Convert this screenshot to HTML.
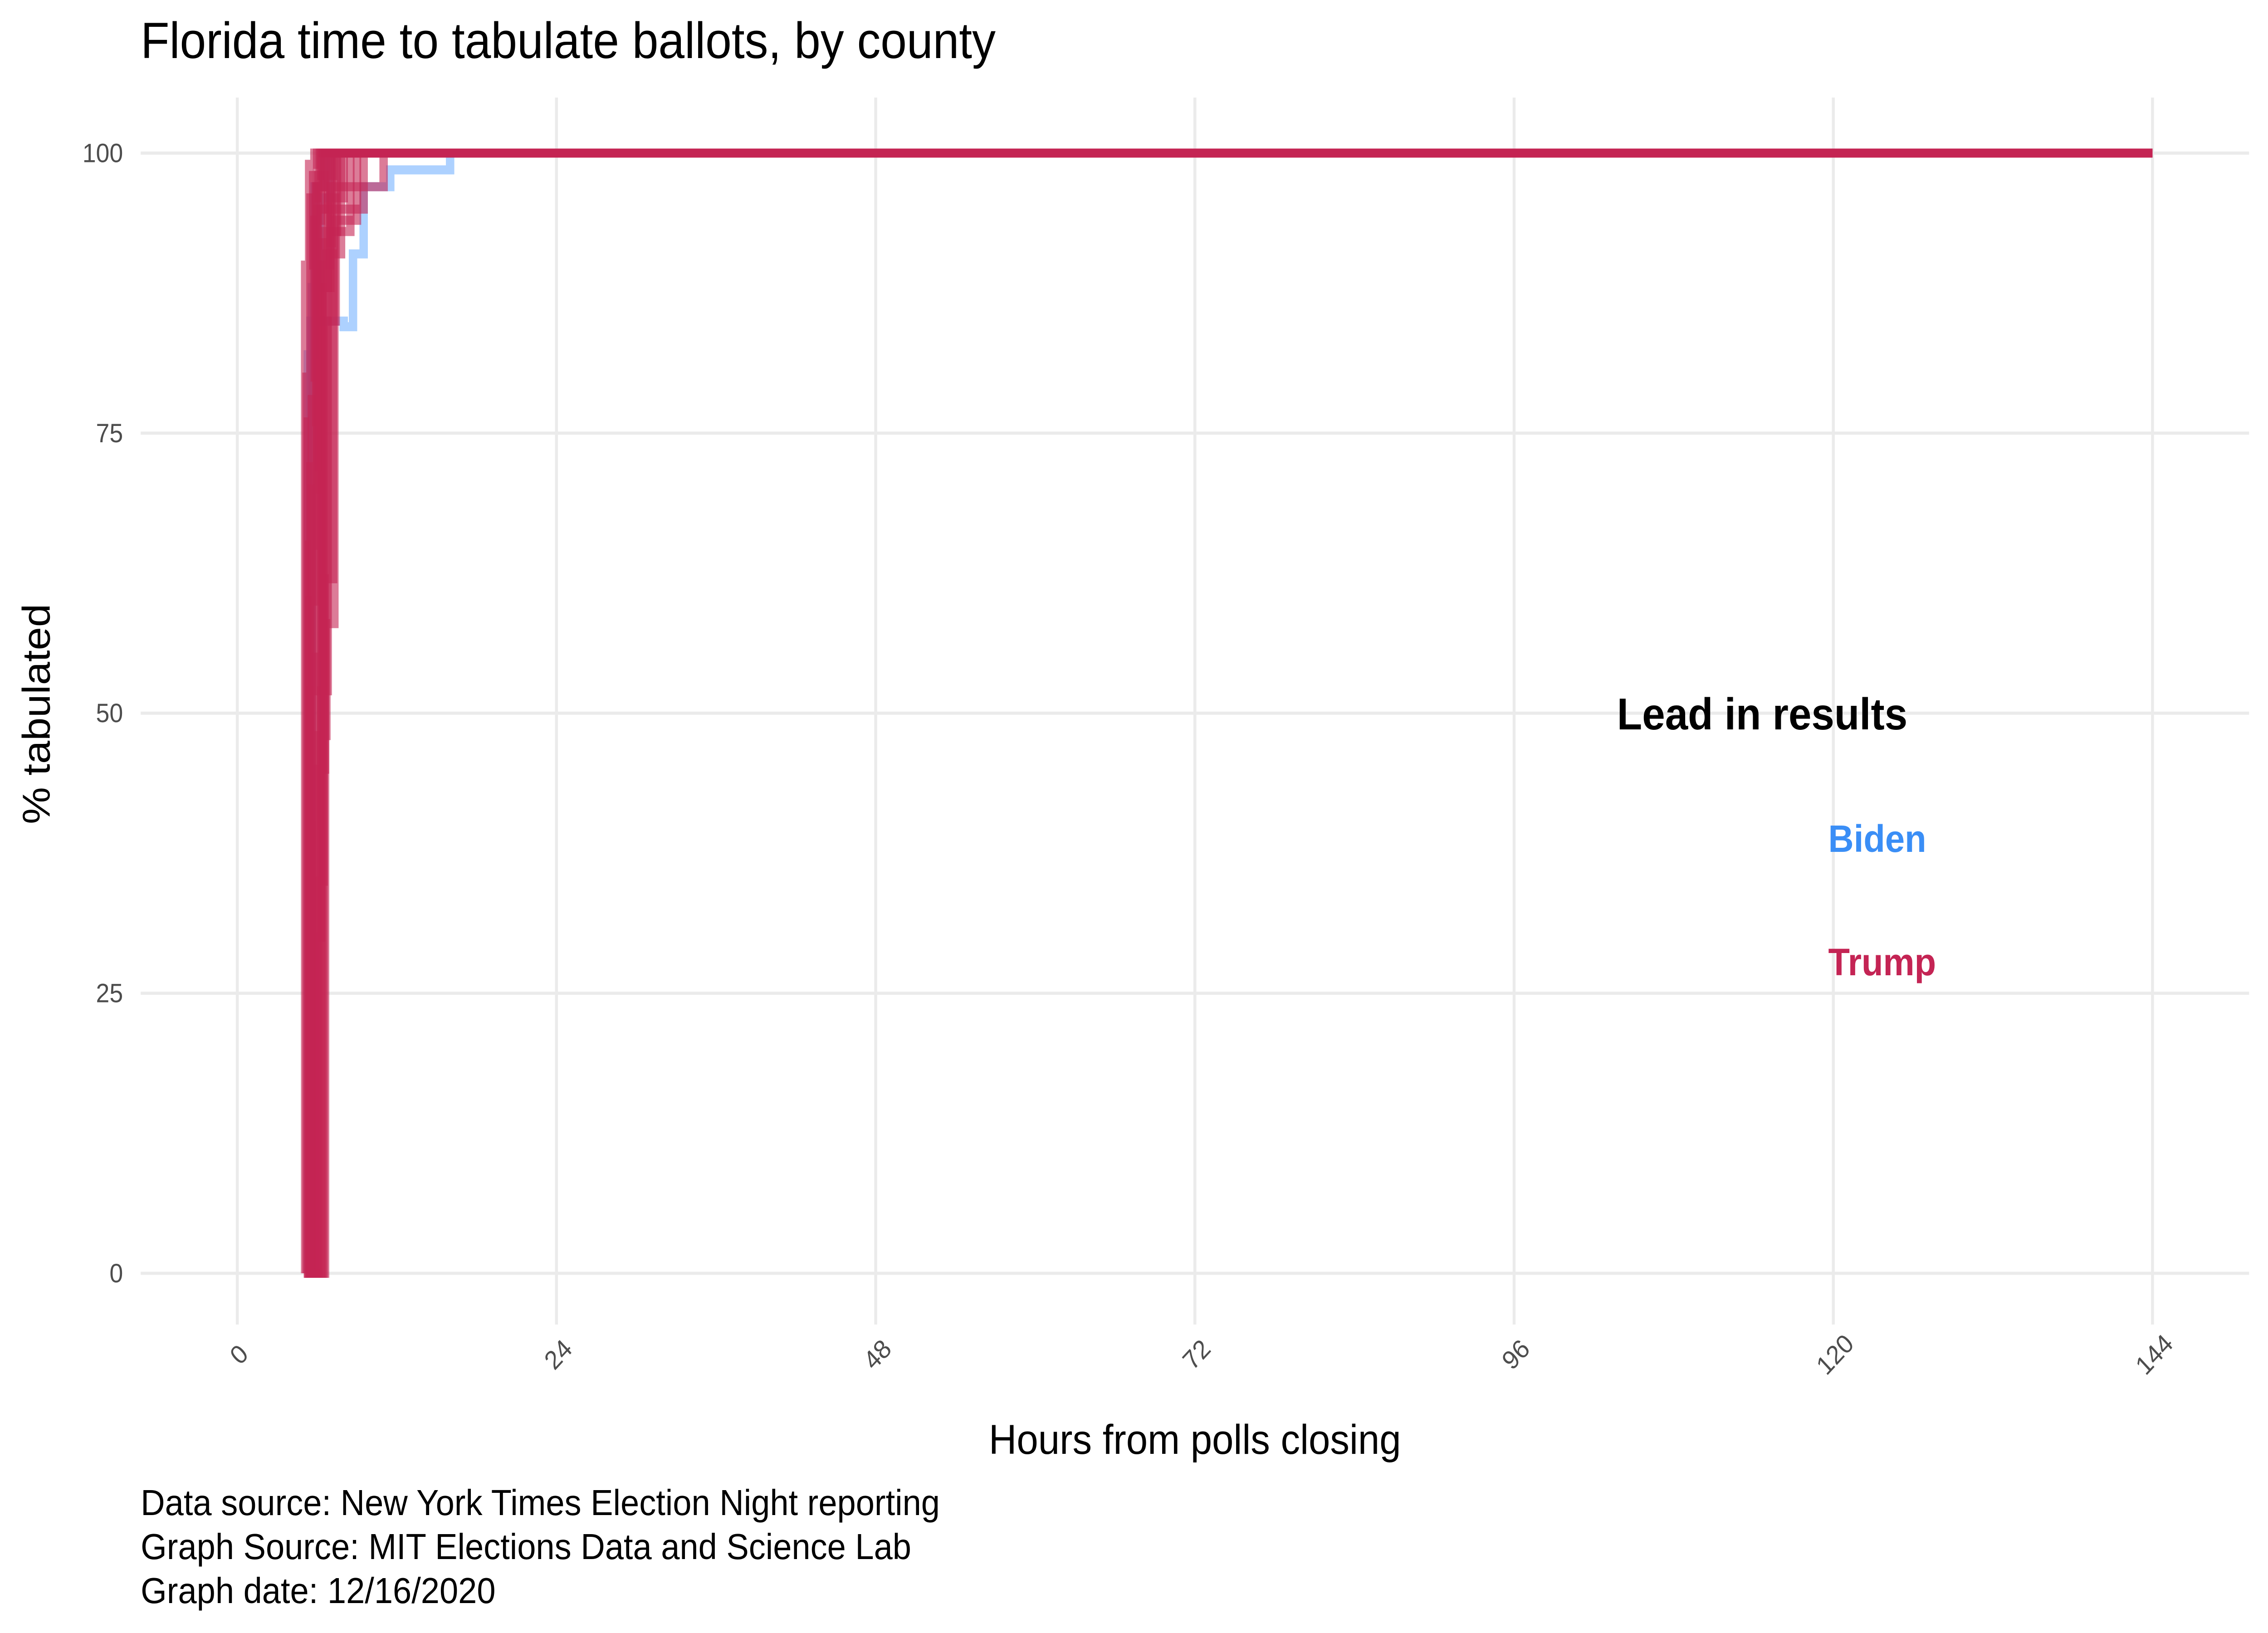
<!DOCTYPE html>
<html><head><meta charset="utf-8"><style>html,body{margin:0;padding:0;background:#fff;width:100%;height:100%;overflow:hidden}svg{display:block;position:absolute;left:0;top:0;width:100vw;height:100vh}text{font-family:"Liberation Sans",Arial,sans-serif}</style></head>
<body>
<svg id="chart" viewBox="0 0 5400 3600" preserveAspectRatio="none" xmlns="http://www.w3.org/2000/svg">
<rect width="5400" height="3600" fill="#fff"/>
<g id="grid"></g>
<g id="series"></g>
<g id="axes"></g>
<text x="335" y="128" font-size="112" fill="#000">Florida time to tabulate ballots, by county</text>
<text transform="translate(118,1574) rotate(-90)" text-anchor="middle" font-size="92" fill="#000">% tabulated</text>
<text x="2845" y="3205" text-anchor="middle" font-size="92" fill="#000">Hours from polls closing</text>
<text x="3850" y="1608" font-size="98" font-weight="bold" fill="#000">Lead in results</text>
<text x="4353" y="1878" font-size="84" font-weight="bold" fill="#3A8EF6">Biden</text>
<text x="4353" y="2150" font-size="84" font-weight="bold" fill="#C42454">Trump</text>
<text x="335" y="3340" font-size="80" fill="#000">Data source: New York Times Election Night reporting</text>
<text x="335" y="3437" font-size="80" fill="#000">Graph Source: MIT Elections Data and Science Lab</text>
<text x="335" y="3534" font-size="80" fill="#000">Graph date: 12/16/2020</text>
</svg>
<script>
const xTicks = [0, 24, 48, 72, 96, 120, 144];
const yTicks = [0, 25, 50, 75, 100];
const yTickLabels = ["0", "25", "50", "75", "100"];
// Trump-lead counties (hours, % tabulated)
const trumpHours = [
  [5.0, 5.2, 5.5, 6.0, 144],
  [5.1, 5.3, 5.7, 6.2, 144],
  [5.2, 5.4, 5.9, 6.4, 144],
  [5.3, 5.5, 6.0, 6.6, 144],
  [5.5, 5.8, 6.3, 7.0, 144],
  [5.6, 6.0, 6.6, 7.5, 144],
  [5.8, 6.3, 6.8, 8.0, 144],
  [5.4, 5.6, 6.1, 7.2, 144],
  [5.7, 6.4, 7.0, 11.0, 144],
  [5.2, 5.6, 6.2, 9.5, 144],
  [5.9, 6.5, 7.2, 8.5, 144],
  [5.0, 5.1, 5.4, 5.8, 144],
  [5.1, 5.4, 5.8, 6.3, 144],
  [5.3, 5.7, 6.2, 6.8, 144],
  [5.4, 5.9, 6.4, 7.1, 144],
  [5.6, 5.9, 6.5, 7.4, 144],
  [5.2, 5.5, 6.0, 6.5, 144],
  [5.5, 6.1, 6.7, 7.8, 144],
  [6.0, 6.6, 7.3, 9.0, 144]
];
const trumpPct = [
  [0, 80, 96, 100, 100],
  [0, 76, 98, 100, 100],
  [0, 60, 97, 100, 100],
  [0, 52, 95, 100, 100],
  [0, 30, 90, 100, 100],
  [0, 45, 93, 100, 100],
  [0, 52, 96, 100, 100],
  [0, 70, 98, 100, 100],
  [0, 88, 97, 100, 100],
  [0, 78, 95, 100, 100],
  [0, 62, 93, 100, 100],
  [0, 90, 99, 100, 100],
  [0, 65, 94, 100, 100],
  [0, 40, 88, 100, 100],
  [0, 55, 92, 100, 100],
  [0, 35, 85, 100, 100],
  [0, 72, 97, 100, 100],
  [0, 48, 91, 100, 100],
  [0, 58, 94, 100, 100]
];
// Biden-lead counties
const bidenHours = [
  [5.2, 5.5, 8.0, 8.7, 9.5, 11.5, 16.0, 144],
  [5.1, 5.3, 5.8, 6.5, 144],
  [5.3, 5.6, 6.2, 7.0, 144]
];
const bidenPct = [
  [0, 85, 84.5, 91, 97, 98.5, 100, 100],
  [0, 82, 97, 100, 100],
  [0, 88, 96, 100, 100]
];
const NS = "http://www.w3.org/2000/svg";
const X0 = 565, X1 = 5125, Y0 = 2807, Y1 = 337.5;
const xs = h => X0 + (h / 144) * (X1 - X0);
const ys = p => Y0 - (p / 100) * (Y0 - Y1);
const grid = document.getElementById('grid');
const axes = document.getElementById('axes');
const ser = document.getElementById('series');
yTicks.forEach((v, i) => {
  const l = document.createElementNS(NS, 'line');
  l.setAttribute('x1', 335); l.setAttribute('x2', 5355);
  l.setAttribute('y1', ys(v)); l.setAttribute('y2', ys(v));
  l.setAttribute('stroke', '#ebebeb'); l.setAttribute('stroke-width', 7);
  
  
  grid.appendChild(l);
  const t = document.createElementNS(NS, 'text');
  t.setAttribute('x', 293); t.setAttribute('y', ys(v) + 20);
  t.setAttribute('text-anchor', 'end'); t.setAttribute('font-size', 58); t.setAttribute('fill', '#4d4d4d');
  t.textContent = yTickLabels[i];
  
  
  axes.appendChild(t);
});
xTicks.forEach(v => {
  const l = document.createElementNS(NS, 'line');
  l.setAttribute('x1', xs(v)); l.setAttribute('x2', xs(v));
  l.setAttribute('y1', 215); l.setAttribute('y2', 2920);
  l.setAttribute('stroke', '#ebebeb'); l.setAttribute('stroke-width', 7);
  
  
  grid.appendChild(l);
  const t = document.createElementNS(NS, 'text');
  t.setAttribute('transform', `translate(${xs(v) + 18},${3000}) rotate(-45)`);
  t.setAttribute('text-anchor', 'middle'); t.setAttribute('font-size', 58); t.setAttribute('fill', '#4d4d4d');
  t.textContent = String(v);
  
  
  axes.appendChild(t);
});
function stepPath(h, p) {
  let d = `M${xs(h[0])},${ys(p[0])}`;
  for (let i = 1; i < h.length; i++) {
    d += ` H${xs(h[i])} V${ys(p[i])}`;
  }
  return d;
}
function draw(hs, ps, color, op, name) {
  hs.forEach((h, i) => {
    const path = document.createElementNS(NS, 'path');
    path.setAttribute('d', stepPath(h, ps[i]));
    path.setAttribute('fill', 'none');
    path.setAttribute('stroke', color);
    path.setAttribute('stroke-width', 20);
    path.setAttribute('stroke-opacity', op);
    
    
    ser.appendChild(path);
  });
}
draw(bidenHours, bidenPct, '#6aabff', 0.55, 'biden-county-line');
draw(trumpHours, trumpPct, '#C42454', 0.6, 'trump-county-line');
</script>
</body></html>
